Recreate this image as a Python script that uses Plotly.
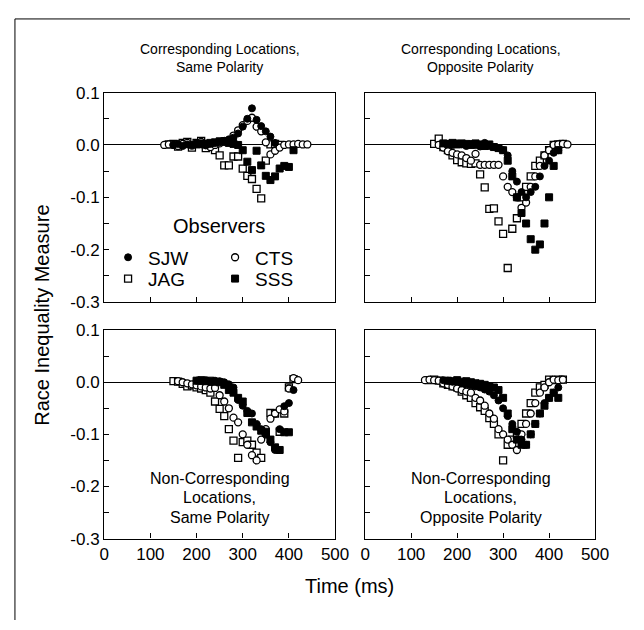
import plotly.graph_objects as go

# ---------------- data (time in ms, race inequality measure) ----------------
observers = ["SJW", "CTS", "JAG", "SSS"]

# Panel 1: Corresponding Locations, Same Polarity
p1_SJW_t = [150, 160, 170, 180, 190, 200, 210, 220, 230, 240, 250, 260, 270, 280, 290, 300, 310, 320, 330, 340, 350, 360, 370]
p1_SJW_v = [0.000, 0.002, -0.002, 0.001, 0.000, 0.003, 0.001, -0.001, 0.002, 0.004, 0.005, 0.008, 0.010, 0.014, 0.022, 0.035, 0.050, 0.070, 0.048, 0.036, 0.026, 0.016, 0.004]
p1_CTS_t = [130, 140, 150, 160, 170, 180, 190, 200, 210, 220, 230, 240, 250, 260, 270, 280, 290, 300, 310, 320, 330, 340, 350, 360, 370, 380, 390, 400, 410, 420, 430, 440]
p1_CTS_v = [0.000, 0.001, 0.000, -0.002, 0.002, 0.004, -0.001, 0.003, 0.006, 0.002, -0.004, 0.000, 0.003, 0.006, 0.010, 0.018, 0.028, 0.038, 0.046, 0.052, 0.035, 0.026, 0.005, -0.018, -0.011, -0.005, 0.000, 0.001, 0.001, 0.002, 0.001, 0.001]
p1_JAG_t = [140, 150, 160, 170, 180, 190, 200, 210, 220, 230, 240, 250, 260, 270, 280, 290, 300, 310, 320, 330, 340, 350, 360, 370, 380]
p1_JAG_v = [0.001, 0.002, -0.003, 0.004, 0.006, -0.005, 0.004, 0.008, -0.006, 0.002, -0.010, -0.020, -0.039, -0.039, -0.022, -0.022, -0.045, -0.059, -0.065, -0.084, -0.102, -0.030, 0.001, 0.002, 0.000]
p1_SSS_t = [200, 210, 220, 230, 240, 250, 260, 270, 280, 290, 300, 310, 320, 330, 340, 350, 360, 370, 380, 390, 400, 410]
p1_SSS_v = [0.001, 0.003, 0.002, 0.004, 0.005, 0.007, 0.007, 0.004, 0.002, 0.000, -0.010, -0.032, -0.048, -0.011, -0.039, -0.059, -0.067, -0.060, -0.045, -0.040, -0.042, -0.010]

# Panel 2: Corresponding Locations, Opposite Polarity
p2_SJW_t = [180, 190, 200, 210, 220, 230, 240, 250, 260, 270, 280, 290, 300, 310, 320, 330, 340, 350, 360, 370, 380, 390, 400, 410, 420]
p2_SJW_v = [0.002, 0.000, 0.003, 0.001, -0.002, 0.002, 0.000, -0.003, 0.004, -0.002, -0.004, -0.006, -0.010, -0.020, -0.050, -0.070, -0.090, -0.100, -0.090, -0.080, -0.060, -0.040, -0.030, -0.015, -0.010]
p2_CTS_t = [160, 170, 180, 190, 200, 210, 220, 230, 240, 250, 260, 270, 280, 290, 300, 310, 320, 330, 340, 350, 360, 370, 380, 390, 400, 410, 420, 430, 440]
p2_CTS_v = [0.000, -0.005, -0.012, -0.015, -0.018, -0.020, -0.025, -0.030, -0.017, -0.038, -0.038, -0.038, -0.038, -0.038, -0.060, -0.080, -0.090, -0.100, -0.120, -0.110, -0.080, -0.060, -0.040, -0.020, -0.010, 0.000, 0.001, 0.002, 0.001]
p2_JAG_t = [150, 160, 170, 180, 190, 200, 210, 220, 230, 240, 250, 260, 270, 280, 290, 300, 310, 320, 330, 340, 350, 360, 370, 380, 390, 400, 410, 420, 430]
p2_JAG_v = [0.002, 0.012, -0.004, -0.010, -0.020, -0.029, -0.033, -0.035, -0.036, -0.035, -0.056, -0.081, -0.122, -0.121, -0.146, -0.170, -0.235, -0.160, -0.140, -0.100, -0.080, -0.060, -0.040, -0.030, -0.020, -0.010, 0.000, 0.001, 0.002]
p2_SSS_t = [170, 180, 190, 200, 210, 220, 230, 240, 250, 260, 270, 280, 290, 300, 310, 320, 330, 340, 350, 360, 370, 380, 390, 400, 410, 420]
p2_SSS_v = [0.003, 0.002, 0.004, 0.001, 0.003, 0.002, 0.000, 0.003, 0.001, -0.002, 0.001, -0.004, -0.006, -0.010, -0.030, -0.060, -0.100, -0.130, -0.150, -0.180, -0.200, -0.190, -0.150, -0.100, -0.040, -0.010]

# Panel 3: Non-Corresponding Locations, Same Polarity
p3_SJW_t = [200, 210, 220, 230, 240, 250, 260, 270, 280, 290, 300, 310, 320, 330, 340, 350, 360, 370, 380, 390, 400, 410]
p3_SJW_v = [0.003, 0.002, 0.004, 0.001, 0.003, 0.002, 0.000, -0.004, -0.010, -0.034, -0.045, -0.055, -0.060, -0.080, -0.090, -0.100, -0.115, -0.130, -0.090, -0.046, -0.040, -0.015]
p3_CTS_t = [160, 170, 180, 190, 200, 210, 220, 230, 240, 250, 260, 270, 280, 290, 300, 310, 320, 330, 340, 350, 360, 370, 380, 390, 400, 410, 420]
p3_CTS_v = [0.002, 0.000, -0.002, -0.004, -0.006, -0.008, -0.010, -0.012, -0.011, -0.025, -0.037, -0.050, -0.068, -0.077, -0.100, -0.120, -0.140, -0.150, -0.110, -0.090, -0.070, -0.060, -0.052, -0.056, -0.012, 0.008, 0.004]
p3_JAG_t = [150, 160, 170, 180, 190, 200, 210, 220, 230, 240, 250, 260, 270, 280, 290, 300, 310, 320, 330, 340, 350, 360, 370, 380, 390, 400, 410]
p3_JAG_v = [0.002, 0.001, -0.003, -0.008, -0.006, -0.010, -0.012, -0.015, -0.020, -0.037, -0.051, -0.065, -0.090, -0.112, -0.145, -0.115, -0.112, -0.120, -0.135, -0.145, -0.100, -0.059, -0.060, -0.095, -0.060, -0.010, 0.006]
p3_SSS_t = [200, 210, 220, 230, 240, 250, 260, 270, 280, 290, 300, 310, 320, 330, 340, 350, 360, 370, 380, 390, 400]
p3_SSS_v = [0.003, 0.004, 0.002, 0.003, 0.001, 0.000, -0.005, -0.015, -0.020, -0.030, -0.037, -0.059, -0.077, -0.085, -0.093, -0.095, -0.110, -0.125, -0.130, -0.096, -0.096]

# Panel 4: Non-Corresponding Locations, Opposite Polarity
p4_SJW_t = [170, 180, 190, 200, 210, 220, 230, 240, 250, 260, 270, 280, 290, 300, 310, 320, 330, 340, 350, 360, 370, 380, 390, 400, 410, 420]
p4_SJW_v = [0.004, 0.003, 0.001, 0.002, -0.002, -0.004, -0.006, -0.008, -0.010, -0.014, -0.018, -0.025, -0.035, -0.050, -0.065, -0.080, -0.095, -0.110, -0.120, -0.100, -0.080, -0.060, -0.040, -0.030, -0.020, -0.010]
p4_CTS_t = [130, 140, 150, 160, 170, 180, 190, 200, 210, 220, 230, 240, 250, 260, 270, 280, 290, 300, 310, 320, 330, 340, 350, 360, 370, 380, 390, 400, 410, 420, 430]
p4_CTS_v = [0.004, 0.005, 0.004, 0.003, -0.002, -0.005, -0.008, -0.012, -0.015, -0.018, -0.020, -0.030, -0.035, -0.045, -0.060, -0.070, -0.090, -0.100, -0.110, -0.120, -0.130, -0.100, -0.080, -0.060, -0.040, -0.020, -0.010, 0.000, 0.005, 0.004, 0.005]
p4_JAG_t = [140, 150, 160, 170, 180, 190, 200, 210, 220, 230, 240, 250, 260, 270, 280, 290, 300, 310, 320, 330, 340, 350, 360, 370, 380, 390, 400, 410, 420, 430]
p4_JAG_v = [0.004, 0.005, 0.003, -0.002, -0.005, -0.008, -0.010, -0.018, -0.025, -0.030, -0.040, -0.048, -0.055, -0.069, -0.080, -0.100, -0.150, -0.120, -0.110, -0.100, -0.080, -0.060, -0.040, -0.020, -0.010, -0.005, 0.005, 0.004, 0.005, 0.005]
p4_SSS_t = [180, 190, 200, 210, 220, 230, 240, 250, 260, 270, 280, 290, 300, 310, 320, 330, 340, 350, 360, 370, 380, 390, 400, 410, 420]
p4_SSS_v = [0.003, 0.002, 0.004, 0.001, 0.002, 0.000, -0.002, -0.003, -0.005, -0.008, -0.010, -0.015, -0.030, -0.060, -0.090, -0.110, -0.120, -0.120, -0.100, -0.080, -0.060, -0.045, -0.030, -0.020, -0.030]

panel_titles = [
    ["Corresponding Locations,", "Same Polarity"],
    ["Corresponding Locations,", "Opposite Polarity"],
    ["Non-Corresponding", "Locations,", "Same Polarity"],
    ["Non-Corresponding", "Locations,", "Opposite Polarity"],
]
x_ticks = [0, 100, 200, 300, 400, 500]
y_ticks = [-0.3, -0.25, -0.2, -0.15, -0.1, -0.05, 0.0, 0.05, 0.1]
y_tick_text = ["-0.3", "", "-0.2", "", "-0.1", "", "0.0", "", "0.1"]

panel_data = [
    {"SJW": (p1_SJW_t, p1_SJW_v), "CTS": (p1_CTS_t, p1_CTS_v), "JAG": (p1_JAG_t, p1_JAG_v), "SSS": (p1_SSS_t, p1_SSS_v)},
    {"SJW": (p2_SJW_t, p2_SJW_v), "CTS": (p2_CTS_t, p2_CTS_v), "JAG": (p2_JAG_t, p2_JAG_v), "SSS": (p2_SSS_t, p2_SSS_v)},
    {"SJW": (p3_SJW_t, p3_SJW_v), "CTS": (p3_CTS_t, p3_CTS_v), "JAG": (p3_JAG_t, p3_JAG_v), "SSS": (p3_SSS_t, p3_SSS_v)},
    {"SJW": (p4_SJW_t, p4_SJW_v), "CTS": (p4_CTS_t, p4_CTS_v), "JAG": (p4_JAG_t, p4_JAG_v), "SSS": (p4_SSS_t, p4_SSS_v)},
]

# ---------------- styling ----------------
# page body has an 8px default margin; the figure fills the rest of the 644x630 window
OFF = 8
FW, FH = 644 - OFF, 630 - OFF
FONT = "Liberation Sans, Arial, Helvetica, sans-serif"
styles = {
    "SJW": dict(symbol="circle", color="black", line=dict(color="black", width=1)),
    "CTS": dict(symbol="circle", color="white", line=dict(color="black", width=1.3)),
    "JAG": dict(symbol="square", color="white", line=dict(color="black", width=1.3)),
    "SSS": dict(symbol="square", color="black", line=dict(color="black", width=1)),
}
legend_of = {"SJW": "legend", "CTS": "legend", "JAG": "legend2", "SSS": "legend2"}
draw_order = ["JAG", "CTS", "SSS", "SJW"]
legend_order = {"SJW": 1, "CTS": 2, "JAG": 3, "SSS": 4}


def px(x):
    return (x - OFF) / FW


def py(y):
    return 1 - (y - OFF) / FH


x_dom = [[102, 340], [371, 608], [102, 340], [371, 608]]
y_dom = [[86, 302], [86, 302], [331, 546], [331, 546]]

fig = go.Figure()

for i, pdata in enumerate(panel_data):
    ax = "" if i == 0 else str(i + 1)
    for obs in draw_order:
        t, v = pdata[obs]
        st = styles[obs]
        fig.add_trace(go.Scatter(
            x=t, y=v, mode="markers", name=obs,
            xaxis="x" + ax, yaxis="y" + ax,
            marker=dict(symbol=st["symbol"], size=7, color=st["color"], line=st["line"]),
            showlegend=(i == 0), legend=legend_of[obs], legendrank=legend_order[obs],
        ))

layout = dict(
    width=FW, height=FH, autosize=False,
    margin=dict(l=0, r=0, t=0, b=0),
    paper_bgcolor="white", plot_bgcolor="white",
    font=dict(family=FONT, color="black", size=15),
)
for i in range(4):
    ax = "" if i == 0 else str(i + 1)
    bottom = i >= 2
    left = i in (0, 2)
    layout["xaxis" + ax] = dict(
        domain=[px(x_dom[i][0]), px(x_dom[i][1])], range=[0, 500],
        anchor="y" + ax, showline=True, mirror=True, linecolor="black", linewidth=1.3,
        showgrid=False, zeroline=False, ticks="inside", ticklen=5, tickcolor="black",
        tickvals=x_ticks, showticklabels=bottom, tickfont=dict(size=17), fixedrange=True,
    )
    layout["yaxis" + ax] = dict(
        domain=[py(y_dom[i][1]), py(y_dom[i][0])], range=[-0.3, 0.1],
        anchor="x" + ax, showline=True, mirror=True, linecolor="black", linewidth=1.3,
        showgrid=False, zeroline=True, zerolinecolor="black", zerolinewidth=1,
        ticks="inside", ticklen=5, tickcolor="black",
        tickvals=y_ticks, ticktext=y_tick_text, showticklabels=left,
        tickfont=dict(size=17), fixedrange=True,
    )

layout["legend"] = dict(
    orientation="h", x=px(106), y=py(256), xanchor="left", yanchor="middle",
    font=dict(size=19), entrywidth=62, bgcolor="rgba(0,0,0,0)", tracegroupgap=0,
    itemclick=False,
)
layout["legend2"] = dict(
    orientation="h", x=px(106), y=py(278), xanchor="left", yanchor="middle",
    font=dict(size=19), entrywidth=62, bgcolor="rgba(0,0,0,0)", tracegroupgap=0,
    itemclick=False,
)

annotations = []
title_cx = [221, 490, 221, 490]
for i, lines in enumerate(panel_titles):
    if i < 2:
        ys, fs = [41, 60], 14
    else:
        ys, fs = [484, 504, 524], 16
    for line, yy in zip(lines, ys):
        annotations.append(dict(
            text=line, x=px(title_cx[i]), y=py(yy), xref="paper", yref="paper",
            xanchor="center", yanchor="middle", showarrow=False, font=dict(size=fs),
        ))
annotations.append(dict(text="Observers", x=px(220), y=py(224), xref="paper", yref="paper",
                        xanchor="center", yanchor="middle", showarrow=False, font=dict(size=20)))
annotations.append(dict(text="Race Inequality Measure", x=px(37), y=py(316), xref="paper", yref="paper",
                        xanchor="center", yanchor="middle", showarrow=False, textangle=-90,
                        font=dict(size=20)))
annotations.append(dict(text="Time (ms)", x=px(355), y=py(595), xref="paper", yref="paper",
                        xanchor="center", yanchor="middle", showarrow=False, font=dict(size=20)))
layout["annotations"] = annotations

layout["shapes"] = [
    dict(type="line", xref="paper", yref="paper", x0=px(10), x1=px(10), y0=py(10), y1=0,
         line=dict(color="black", width=1)),
    dict(type="line", xref="paper", yref="paper", x0=px(10), x1=1, y0=py(10), y1=py(10),
         line=dict(color="black", width=1)),
]

fig.update_layout(**layout)
fig.write_html("out.html", config={"displayModeBar": False})
